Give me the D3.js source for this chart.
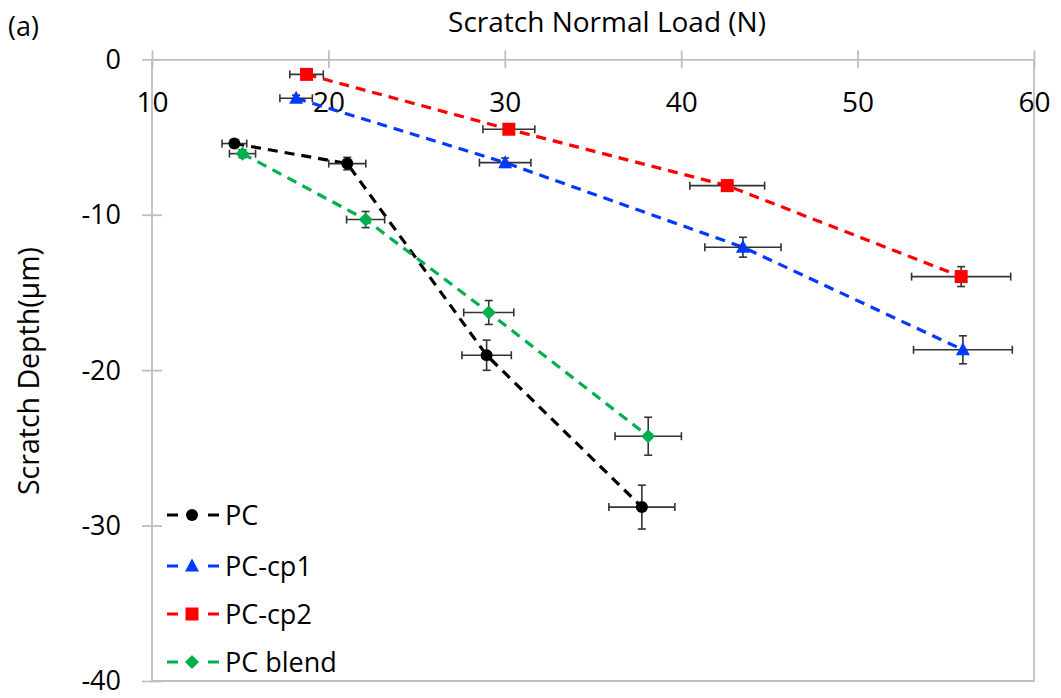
<!DOCTYPE html>
<html><head><meta charset="utf-8">
<script src="https://cdn.jsdelivr.net/npm/d3@7"></script>
<style>body{margin:0;background:#fff}svg{display:block}text{font-family:"Open Sans",sans-serif;fill:#000}</style>
</head><body><svg id="c" width="1061" height="698"></svg>
<script>
const xTicks=[10,20,30,40,50,60];
const yTicks=[0,-10,-20,-30,-40];
const seriesNames=["PC","PC-cp1","PC-cp2","PC blend"];
const seriesColors=["#000000","#0039FF","#FF0000","#00B050"];
const seriesShapes=["circle","triangle","square","diamond"];
const pcX=[14.67,21.07,28.97,37.77];
const pcY=[-5.42,-6.71,-19.04,-28.81];
const pcXErr=[0.7,1.05,1.4,1.87];
const pcYErr=[0.25,0.4,0.97,1.41];
const cp1X=[18.17,30.02,43.5,55.97];
const cp1Y=[-2.51,-6.65,-12.09,-18.69];
const cp1XErr=[0.92,1.46,2.16,2.8];
const cp1YErr=[0.2,0.3,0.64,0.9];
const cp2X=[18.76,30.23,42.61,55.87];
const cp2Y=[-0.97,-4.5,-8.13,-13.98];
const cp2XErr=[0.95,1.47,2.12,2.81];
const cp2YErr=[0.2,0.25,0.35,0.64];
const blX=[15.13,22.11,29.09,38.13];
const blY=[-6.07,-10.31,-16.29,-24.25];
const blXErr=[0.74,1.08,1.42,1.88];
const blYErr=[0.25,0.52,0.77,1.22];

const data=[[pcX,pcY,pcXErr,pcYErr],[cp1X,cp1Y,cp1XErr,cp1YErr],[cp2X,cp2Y,cp2XErr,cp2YErr],[blX,blY,blXErr,blYErr]]
 .map((s,i)=>({name:seriesNames[i],color:seriesColors[i],shape:seriesShapes[i],
   pts:s[0].map((x,j)=>({x,y:s[1][j],ex:s[2][j],ey:s[3][j]}))}));

const svg=d3.select("#c");
const L=152,R=1034,T=59.3,B=681;
const x=d3.scaleLinear().domain([10,60]).range([L,R]);
const y=d3.scaleLinear().domain([0,-40]).range([T,B]);
const grey="#BFBFBF";
const FONT="'Open Sans',sans-serif";

// plot border (left, bottom, right)
svg.append("path").attr("d",`M${L},${T}V${B}H${R}V${T}`).attr("fill","none").attr("stroke",grey).attr("stroke-width",1.8);
// top x axis
const gx=svg.append("g").attr("transform",`translate(0,${T})`)
 .call(d3.axisBottom(x).tickValues(xTicks).tickSize(0).tickFormat(d=>String(d)));
gx.select(".domain").attr("stroke",grey).attr("stroke-width",1.8);
gx.selectAll(".tick line").remove();
gx.selectAll(".tick").append("line").attr("y1",-9).attr("y2",9).attr("stroke",grey).attr("stroke-width",1.8);
gx.selectAll(".tick text").attr("y",52.5).attr("dy",0).style("font-size","28px").style("font-family",FONT).attr("fill","#000");

const gy=svg.append("g").attr("transform",`translate(${L},0)`)
 .call(d3.axisLeft(y).tickValues(yTicks).tickSize(0).tickFormat(d=>String(d)));
gy.select(".domain").remove();
gy.selectAll(".tick").append("line").attr("x1",-10).attr("x2",10).attr("stroke",grey).attr("stroke-width",1.8);
gy.selectAll(".tick text").attr("x",-31).attr("dy","0.33em").style("font-size","27px").style("font-family",FONT).attr("fill","#000");

svg.append("text").attr("x",607).attr("y",31.5).attr("text-anchor","middle").style("font-size","28px").text("Scratch Normal Load (N)");
svg.append("text").attr("transform","translate(39,371) rotate(-90)").attr("text-anchor","middle").style("font-size","28.5px").text("Scratch Depth(μm)");
svg.append("text").attr("x",8).attr("y",36).style("font-size","27px").text("(a)");

function marker(g,shape,color,cx,cy){
  if(shape==="circle") g.append("circle").attr("cx",cx).attr("cy",cy).attr("r",6).attr("fill",color);
  else if(shape==="square") g.append("rect").attr("x",cx-6.5).attr("y",cy-6.5).attr("width",13).attr("height",13).attr("fill",color);
  else if(shape==="triangle") g.append("path").attr("d",`M${cx},${cy-7.5}L${cx+7},${cy+5.5}L${cx-7},${cy+5.5}Z`).attr("fill",color);
  else g.append("path").attr("d",`M${cx},${cy-7}L${cx+7},${cy}L${cx},${cy+7}L${cx-7},${cy}Z`).attr("fill",color);
}

const line=d3.line().x(d=>x(d.x)).y(d=>y(d.y));
data.forEach(s=>{
  svg.append("path").datum(s.pts).attr("d",line).attr("fill","none").attr("stroke",s.color).attr("stroke-width",3.2).attr("stroke-dasharray","10,7");
});
data.forEach(s=>{
  const g=svg.append("g");
  s.pts.forEach(p=>{
    const cx=x(p.x),cy=y(p.y);
    const eb=g.append("g").attr("stroke","#333").attr("stroke-width",1.6).attr("fill","none");
    const x1=x(p.x-p.ex),x2=x(p.x+p.ex),y1=y(p.y+p.ey),y2=y(p.y-p.ey);
    eb.append("line").attr("x1",x1).attr("x2",x2).attr("y1",cy).attr("y2",cy);
    eb.append("line").attr("x1",x1).attr("x2",x1).attr("y1",cy-4).attr("y2",cy+4);
    eb.append("line").attr("x1",x2).attr("x2",x2).attr("y1",cy-4).attr("y2",cy+4);
    eb.append("line").attr("x1",cx).attr("x2",cx).attr("y1",y1).attr("y2",y2);
    eb.append("line").attr("x1",cx-4).attr("x2",cx+4).attr("y1",y1).attr("y2",y1);
    eb.append("line").attr("x1",cx-4).attr("x2",cx+4).attr("y1",y2).attr("y2",y2);
    marker(g,s.shape,s.color,cx,cy);
  });
});

// legend
const legY=[515,566,614,662];
data.forEach((s,i)=>{
  const g=svg.append("g");
  const ly=legY[i];
  g.append("line").attr("x1",167).attr("x2",178).attr("y1",ly).attr("y2",ly).attr("stroke",s.color).attr("stroke-width",3);
  g.append("line").attr("x1",208).attr("x2",219).attr("y1",ly).attr("y2",ly).attr("stroke",s.color).attr("stroke-width",3);
  marker(g,s.shape,s.color,192,ly);
  g.append("text").attr("x",225).attr("y",ly).attr("dy","0.36em").style("font-size","27px").text(s.name);
});
</script></body></html>
